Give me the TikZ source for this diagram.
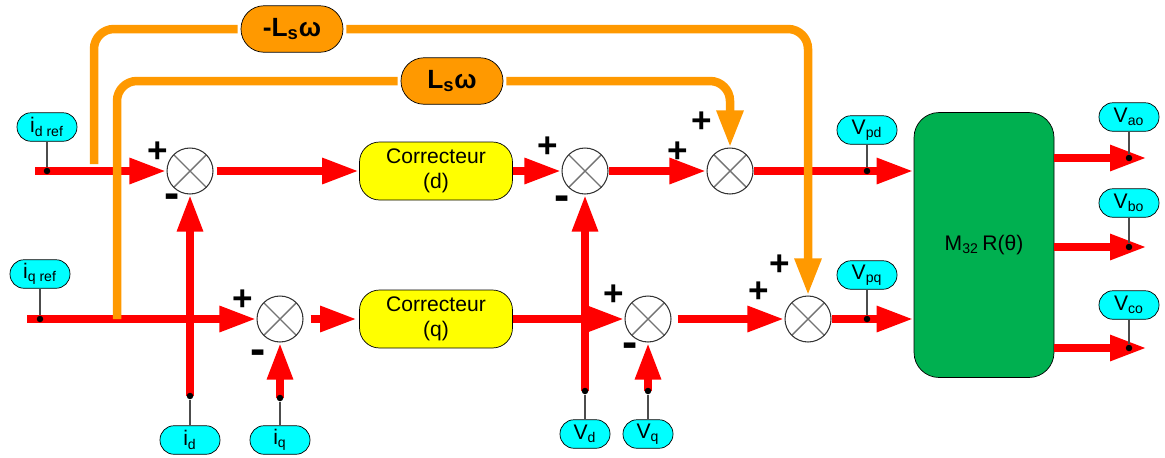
\documentclass[tikz,border=0pt]{standalone}
\usepackage{fontspec}
\setmainfont{Liberation Sans}
\usepackage{xcolor}
\usetikzlibrary{arrows.meta}
\definecolor{rouge}{RGB}{255,0,0}
\definecolor{orangefb}{RGB}{255,153,0}
\definecolor{cyanlbl}{RGB}{0,255,255}
\definecolor{jaune}{RGB}{255,255,0}
\definecolor{vert}{RGB}{0,176,80}
\tikzset{
  sig/.style={draw=rouge, line width=0.17cm},
  sigarr/.style={sig, -{Triangle[length=0.74cm,width=0.48cm]}},
  fb/.style={draw=orangefb, line width=0.17cm, rounded corners=0.4cm},
  fbarr/.style={fb, -{Triangle[length=0.74cm,width=0.5cm]}},
  sumnode/.style={circle, draw=black!80, fill=white, line width=0.6pt, minimum size=0.92cm, inner sep=0pt,
    path picture={\draw[black!55, line width=0.8pt]
      (path picture bounding box.north west) -- (path picture bounding box.south east)
      (path picture bounding box.north east) -- (path picture bounding box.south west);}},
  corr/.style={draw, fill=jaune, rounded corners=0.4cm, minimum width=3.06cm, minimum height=1.16cm,
    align=center, font=\fontsize{12}{14}\selectfont},
  gain/.style={draw, fill=orangefb, rounded corners=0.46cm, minimum width=2.04cm, minimum height=0.93cm,
    font=\fontsize{15}{16}\selectfont\bfseries},
  bloc/.style={draw, fill=vert, rounded corners=0.5cm, minimum width=2.8cm, minimum height=5.3cm,
    font=\fontsize{12}{14}\selectfont},
  lbl/.style={draw, fill=cyanlbl, rounded corners=0.28cm, minimum width=1.2cm, minimum height=0.57cm,
    inner sep=1.5pt, font=\fontsize{12}{12}\selectfont},
  dot/.style={circle, fill=black, inner sep=0pt, minimum size=0.13cm},
  tick/.style={draw=black!70, line width=0.6pt},
  sgnp/.style={font=\fontsize{20}{20}\selectfont\bfseries, inner sep=0pt},
  sgnm/.style={font=\fontsize{26}{26}\selectfont\bfseries, inner sep=0pt}
}
\begin{document}
\begin{tikzpicture}[x=0.02cm, y=-0.02cm]
  \useasboundingbox (0,0) rectangle (1165,457);
  \node[sumnode] (s1) at (190,171) {};
  \node[sumnode] (s2) at (280,319) {};
  \node[sumnode] (s3) at (585,171) {};
  \node[sumnode] (s4) at (730,171) {};
  \node[sumnode] (s5) at (648,319) {};
  \node[sumnode] (s6) at (808,319) {};
  \node[corr] (cd) at (436,171) {Correcteur\\(d)};
  \node[corr] (cq) at (436,319) {Correcteur\\(q)};
  \node[gain] (gm) at (292,29) {-L\textsubscript{s}ω};
  \node[gain] (gp) at (452,81) {L\textsubscript{s}ω};
  \node[bloc] (m) at (984,245) {M\textsubscript{32}\,R(θ)};
  \coordinate (din) at (35,171);  \coordinate (qin) at (27,319);
  \coordinate (idp) at (190,396); \coordinate (iqp) at (280,398);
  \coordinate (vdp) at (585,391); \coordinate (vqp) at (648,391);
  \coordinate (va) at (1147,158); \coordinate (vb) at (1147,247); \coordinate (vc) at (1147,348);
  \coordinate (od) at (94,164);   \coordinate (oq) at (117,319);
  \draw[sigarr] (din) -- (s1);
  \draw[sigarr, shorten <=0.06cm] (s1) -- (cd);
  \draw[sigarr] (cd) -- (s3);
  \draw[sigarr] (s3) -- (s4);
  \draw[sigarr] (s4) -- (s4 -| m.west);
  \draw[sigarr] (qin) -- (s2);
  \draw[sigarr, shorten <=0.14cm, shorten >=0.04cm] (s2) -- (cq);
  \draw[sigarr] (cq) -- (s5);
  \draw[sigarr, shorten <=0.12cm] (s5) -- (s6);
  \draw[sigarr] (s6) -- (s6 -| m.west);
  \draw[sigarr] (idp) -- (s1);
  \draw[sigarr] (iqp) -- (s2);
  \draw[sigarr] (vdp) -- (s3);
  \draw[sigarr] (vqp) -- (s5);
  \draw[sigarr] (m.east |- va) -- (va);
  \draw[sigarr] (m.east |- vb) -- (vb);
  \draw[sigarr] (m.east |- vc) -- (vc);
  \draw[fb] (od) |- ([xshift=-0.06cm]gm.west);
  \draw[fbarr] ([xshift=0.06cm]gm.east) -| (s6);
  \draw[fb] (oq) |- ([xshift=-0.06cm]gp.west);
  \draw[fbarr] ([xshift=0.06cm]gp.east) -| (s4);
  \node[lbl] (lidref) at (47,127) {i\textsubscript{d ref}};
  \node[lbl] (liqref) at (40,274) {i\textsubscript{q ref}};
  \node[lbl] (lid) at (190,440) {i\textsubscript{d}};
  \node[lbl] (liq) at (280,440) {i\textsubscript{q}};
  \node[lbl, minimum width=1cm] (lvd) at (585,434) {V\textsubscript{d}};
  \node[lbl, minimum width=1cm] (lvq) at (648,434) {V\textsubscript{q}};
  \node[lbl] (lvpd) at (867,130) {V\textsubscript{pd}};
  \node[lbl] (lvpq) at (867,275) {V\textsubscript{pq}};
  \node[lbl] (lvao) at (1129,117) {V\textsubscript{ao}};
  \node[lbl] (lvbo) at (1129,203) {V\textsubscript{bo}};
  \node[lbl] (lvco) at (1129,305) {V\textsubscript{co}};
  \node[dot] (didref) at (47,171) {};  \draw[tick] (lidref) -- (didref);
  \node[dot] (diqref) at (40,319) {};  \draw[tick] (liqref) -- (diqref);
  \node[dot] (did) at (idp) {};        \draw[tick] (lid) -- (did);
  \node[dot] (diq) at (iqp) {};        \draw[tick] (liq) -- (diq);
  \node[dot] (dvd) at (vdp) {};        \draw[tick] (lvd) -- (dvd);
  \node[dot] (dvq) at (vqp) {};        \draw[tick] (lvq) -- (dvq);
  \node[dot] (dvpd) at (867,171) {};   \draw[tick] (lvpd) -- (dvpd);
  \node[dot] (dvpq) at (867,319) {};   \draw[tick] (lvpq) -- (dvpq);
  \node[dot] (dvao) at (1129,158) {};  \draw[tick] (lvao) -- (dvao);
  \node[dot] (dvbo) at (1129,247) {};  \draw[tick] (lvbo) -- (dvbo);
  \node[dot] (dvco) at (1129,348) {};  \draw[tick] (lvco) -- (dvco);
  \node[sgnp] (p1) at (158,152) {+}; \node[sgnm] (n1) at (172,201) {-};
  \node[sgnp] (p2) at (243,300) {+}; \node[sgnm] (n2) at (258,357) {-};
  \node[sgnp] (p3) at (548,147) {+}; \node[sgnm] (n3) at (562,203) {-};
  \node[sgnp] (p4) at (678,152) {+}; \node[sgnp] (p4b) at (702,122) {+};
  \node[sgnp] (p5) at (614,295) {+}; \node[sgnm] (n5) at (630,350) {-};
  \node[sgnp] (p6) at (759,292) {+}; \node[sgnp] (p6b) at (780,265) {+};
\end{tikzpicture}
\end{document}
